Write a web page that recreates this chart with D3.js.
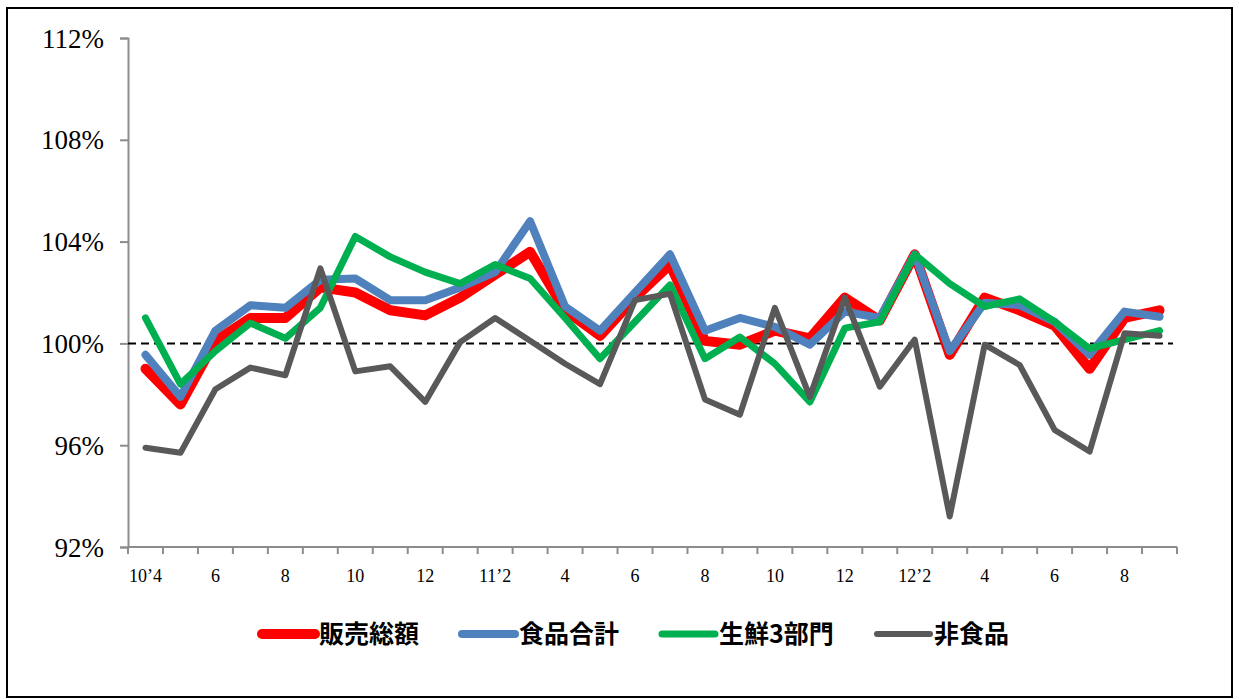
<!DOCTYPE html>
<html>
<head>
<meta charset="utf-8">
<script src="https://cdn.jsdelivr.net/npm/d3@7"></script>
<style>
  body { margin: 0; background: #fff; }
  svg { display: block; }
</style>
</head>
<body>
<svg id="chart" width="1239" height="699"></svg>
<script>
// Month labels (every other month is shown on the axis)
var months = ["10’4", "5", "6", "7", "8", "9", "10", "11", "12",
  "11’1", "11’2", "3", "4", "5", "6", "7", "8", "9", "10", "11", "12",
  "12’1", "12’2", "3", "4", "5", "6", "7", "8", "9"];

// Series values (% of previous year)
var salesTotal = [99.0, 97.6, 100.1, 101.0, 101.0, 102.2, 102.0, 101.3, 101.1, 101.8,
  102.7, 103.6, 101.3, 100.3, 101.8, 103.1, 100.1, 99.95, 100.5, 100.2,
  101.8, 100.9, 103.5, 99.55, 101.8, 101.3, 100.7, 99.0, 101.0, 101.3];
var foodTotal = [99.55, 97.9, 100.5, 101.5, 101.4, 102.5, 102.55, 101.7, 101.7, 102.2,
  102.8, 104.8, 101.45, 100.5, 102.0, 103.5, 100.5, 101.0, 100.65, 99.95,
  101.25, 101.0, 103.5, 99.7, 101.6, 101.5, 100.85, 99.55, 101.25, 101.05];
var fresh3 = [101.0, 98.4, 99.7, 100.8, 100.2, 101.4, 104.2, 103.4, 102.8, 102.35,
  103.1, 102.55, 101.0, 99.4, 100.85, 102.3, 99.4, 100.25, 99.2, 97.7,
  100.6, 100.85, 103.5, 102.35, 101.45, 101.75, 100.85, 99.8, 100.15, 100.5];
var nonFood = [95.9, 95.7, 98.2, 99.05, 98.75, 102.95, 98.9, 99.1, 97.7, 100.05,
  101.0, 100.1, 99.2, 98.4, 101.7, 101.95, 97.8, 97.2, 101.4, 97.9,
  101.8, 98.3, 100.15, 93.2, 99.95, 99.15, 96.6, 95.75, 100.4, 100.3];

var seriesNames = ["販売総額", "食品合計", "生鮮3部門", "非食品"];
var seriesColors = ["#ff0000", "#4f81bd", "#00b050", "#595959"];
var seriesWidths = [10, 8, 7, 6];
var yTicks = [92, 96, 100, 104, 108, 112];

var allSeries = [salesTotal, foodTotal, fresh3, nonFood];

var svg = d3.select("#chart");

// outer frame
svg.append("rect")
  .attr("x", 7).attr("y", 8)
  .attr("width", 1225).attr("height", 689)
  .attr("fill", "none")
  .attr("stroke", "#000")
  .attr("stroke-width", 2);

var x = d3.scaleBand()
  .domain(d3.range(months.length))
  .range([128, 1177])
  .padding(0);

var y = d3.scaleLinear()
  .domain([92, 112])
  .range([547, 38]);

var axisColor = "#8c8c8c";

// y axis
var yAxis = d3.axisLeft(y)
  .tickValues(yTicks)
  .tickSize(8)
  .tickFormat(function (d) { return d + "%"; });

var gy = svg.append("g")
  .attr("transform", "translate(128,0)")
  .call(yAxis);
gy.select(".domain").attr("stroke", axisColor).attr("stroke-width", 2);
gy.selectAll(".tick line").attr("stroke", axisColor).attr("stroke-width", 2);
gy.selectAll(".tick text")
  .attr("x", -24)
  .attr("dy", "0.34em")
  .attr("fill", "#000")
  .style("font-family", "'Liberation Serif', serif")
  .style("font-size", "27px");

// x axis (ticks between categories)
var gx = svg.append("g");
gx.append("line")
  .attr("x1", x.range()[0]).attr("x2", x.range()[1])
  .attr("y1", y(92)).attr("y2", y(92))
  .attr("stroke", axisColor).attr("stroke-width", 2);

var bounds = d3.range(months.length + 1);
gx.selectAll(".xtick")
  .data(bounds)
  .join("line")
  .attr("class", "xtick")
  .attr("x1", function (d) { return x.range()[0] + d * x.bandwidth(); })
  .attr("x2", function (d) { return x.range()[0] + d * x.bandwidth(); })
  .attr("y1", y(92))
  .attr("y2", y(92) + 7)
  .attr("stroke", axisColor)
  .attr("stroke-width", 2);

gx.selectAll(".xlabel")
  .data(d3.range(0, months.length, 2))
  .join("text")
  .attr("class", "xlabel")
  .attr("x", function (d) { return x(d) + x.bandwidth() / 2; })
  .attr("y", 582)
  .attr("text-anchor", "middle")
  .style("font-family", "'Liberation Serif', serif")
  .style("font-size", "18px")
  .text(function (d) { return months[d]; });

// 100% reference line
svg.append("line")
  .attr("x1", x.range()[0]).attr("x2", x.range()[1] - 4)
  .attr("y1", y(100)).attr("y2", y(100))
  .attr("stroke", "#000")
  .attr("stroke-width", 2)
  .attr("stroke-dasharray", "8,5");

// lines
var line = d3.line()
  .x(function (d, i) { return x(i) + x.bandwidth() / 2; })
  .y(function (d) { return y(d); });

allSeries.forEach(function (s, k) {
  svg.append("path")
    .datum(s)
    .attr("d", line)
    .attr("fill", "none")
    .attr("stroke", seriesColors[k])
    .attr("stroke-width", seriesWidths[k])
    .attr("stroke-linejoin", "round")
    .attr("stroke-linecap", "round");
});

// legend
var legendX = [262, 462, 662, 877];
var legend = svg.append("g");
seriesNames.forEach(function (name, k) {
  legend.append("line")
    .attr("x1", legendX[k]).attr("x2", legendX[k] + 53)
    .attr("y1", 634).attr("y2", 634)
    .attr("stroke", seriesColors[k])
    .attr("stroke-width", seriesWidths[k])
    .attr("stroke-linecap", "round");
  legend.append("text")
    .attr("x", legendX[k] + 57)
    .attr("y", 643)
    .style("font-family", "'Noto Sans CJK JP', sans-serif")
    .style("font-weight", "bold")
    .style("font-size", "25px")
    .text(name);
});
</script>
</body>
</html>
